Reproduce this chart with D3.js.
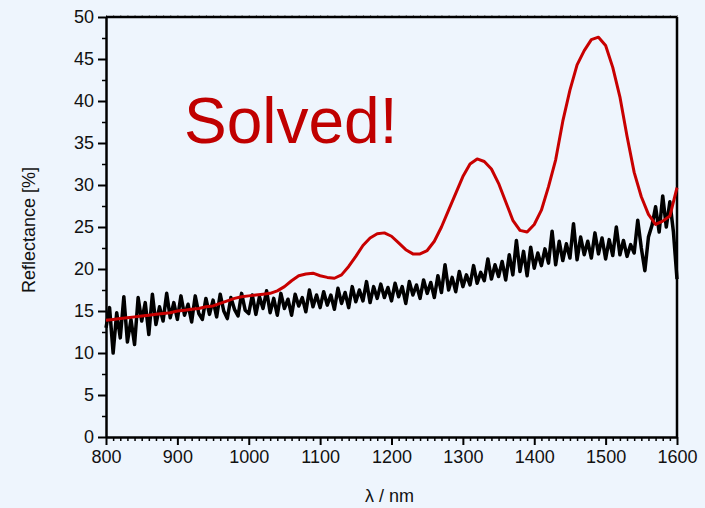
<!DOCTYPE html>
<html>
<head>
<meta charset="utf-8">
<script src="https://cdn.jsdelivr.net/npm/d3@7"></script>
<style>
  body { margin: 0; background: #eef5fd; overflow: hidden; }
  svg { display: block; }
  text { font-family: "Liberation Sans", Arial, sans-serif; }
</style>
</head>
<body>
<svg id="mainsvg" width="705" height="508"></svg>
<script>
// wavelength grid (nm)
const redStart = 800, redStep = 10;
const blackStart = 800, blackStep = 5;

// red: solved reflectance, every 10 nm from 800 to 1600
const redValues = [
  13.9, 14.0, 14.1, 14.2, 14.3, 14.4, 14.5, 14.6, 14.7, 14.8,
  15.0, 15.1, 15.2, 15.3, 15.5, 15.6, 15.9, 16.2, 16.5, 16.7,
  16.8, 16.9, 17.0, 17.1, 17.4, 17.9, 18.6, 19.2, 19.4, 19.5,
  19.2, 19.0, 18.9, 19.3, 20.3, 21.5, 22.8, 23.7, 24.2, 24.3,
  23.9, 23.1, 22.3, 21.8, 21.8, 22.2, 23.3, 25.0, 27.0, 29.0,
  31.0, 32.5, 33.1, 32.8, 31.9, 30.2, 28.0, 25.8, 24.6, 24.4,
  25.3, 27.0, 29.8, 33.0, 37.6, 41.3, 44.3, 46.0, 47.3, 47.6,
  46.6, 44.0, 40.5, 35.8, 31.5, 28.6, 26.5, 25.3, 25.7, 26.3,
  29.7
];

// black: measured reflectance, every 5 nm from 800 to 1600
const blackValues = [
  13.0, 15.4, 10.0, 14.8, 11.8, 16.7, 11.3, 14.0, 11.0, 16.6,
  13.8, 16.0, 12.2, 17.0, 13.4, 15.5, 13.8, 17.1, 14.2, 16.0,
  14.0, 16.8, 14.5, 15.8, 13.7, 16.8, 14.7, 14.0, 16.5, 14.6,
  16.3, 14.3, 17.0, 15.0, 14.1, 16.6, 15.2, 14.4, 17.1, 15.1,
  14.7, 16.9, 14.6, 16.7, 15.3, 17.4, 14.8, 16.5, 14.5, 17.1,
  15.3, 16.4, 14.5, 17.0, 15.6, 16.6, 14.9, 17.5, 15.5, 16.9,
  15.4, 17.3, 15.7, 16.9, 15.2, 17.7, 15.9, 17.2, 15.4, 17.9,
  16.1, 17.5, 16.2, 18.5, 16.0, 17.9, 16.5, 18.2, 16.6, 17.8,
  16.2, 18.3, 16.7, 17.9, 15.9, 18.5, 16.9, 18.1, 16.5, 18.7,
  17.1, 18.4, 16.6, 19.2, 17.2, 20.5, 17.5, 19.0, 17.3, 19.7,
  17.9, 19.3, 18.1, 20.4, 18.3, 19.6, 18.6, 21.2, 18.8, 20.5,
  19.1, 20.9, 18.7, 21.7, 19.3, 23.4, 19.7, 22.1, 19.2, 22.6,
  20.1, 21.9, 20.4, 22.4, 20.7, 24.5, 20.5, 23.3, 21.0, 23.0,
  21.3, 25.4, 21.1, 23.8, 21.7, 23.3, 21.3, 24.3, 21.8, 23.7,
  21.2, 23.5, 21.6, 25.0, 21.7, 23.4, 21.5, 22.9, 21.9, 25.8,
  22.5, 19.8, 23.8, 25.2, 27.4, 24.4, 28.7, 25.0, 28.0, 24.4,
  18.8
];

const xTicks = [800, 900, 1000, 1100, 1200, 1300, 1400, 1500, 1600];
const yTicks = [0, 5, 10, 15, 20, 25, 30, 35, 40, 45, 50];

const svg = d3.select('#mainsvg');
const margin = {top: 17, right: 28, bottom: 71, left: 106};
const width = +svg.attr('width');
const height = +svg.attr('height');
const innerWidth = width - margin.left - margin.right;
const innerHeight = height - margin.top - margin.bottom;

svg.append('rect').attr('width', width).attr('height', height).attr('fill', '#eef5fd');

const g = svg.append('g').attr('transform', `translate(${margin.left}, ${margin.top})`);

const xScale = d3.scaleLinear().domain([800, 1600]).range([0, innerWidth]);
const yScale = d3.scaleLinear().domain([0, 50]).range([innerHeight, 0]);

// minor ticks
const xMinor = d3.range(800, 1601, 10).filter(v => !xTicks.includes(v));
const yMinor = d3.range(2.5, 50, 5);

g.append('g')
  .attr('transform', `translate(0, ${innerHeight})`)
  .call(d3.axisBottom(xScale).tickValues(xMinor).tickSize(4).tickFormat(''))
  .call(a => a.select('.domain').remove())
  .selectAll('line').attr('stroke-width', 1.5);

g.append('g')
  .call(d3.axisLeft(yScale).tickValues(yMinor).tickSize(4).tickFormat(''))
  .call(a => a.select('.domain').remove())
  .selectAll('line').attr('stroke-width', 1.5);

// top minor ticks (tiny)
g.append('g')
  .call(d3.axisTop(xScale).tickValues(d3.range(800, 1601, 10)).tickSize(2).tickFormat(''))
  .call(a => a.select('.domain').remove())
  .selectAll('line').attr('stroke', '#888').attr('stroke-width', 1);

// major axes
const xAxis = g.append('g')
  .attr('transform', `translate(0, ${innerHeight})`)
  .call(d3.axisBottom(xScale).tickValues(xTicks).tickSize(8).tickSizeOuter(0).tickPadding(5).tickFormat(d3.format('d')));
xAxis.selectAll('text').style('font-size', '18px').attr('fill', '#111');

const yAxis = g.append('g')
  .call(d3.axisLeft(yScale).tickValues(yTicks).tickSize(8).tickSizeOuter(0).tickPadding(4).tickFormat(d3.format('d')));
yAxis.selectAll('text').style('font-size', '18px').attr('fill', '#111');

[xAxis, yAxis].forEach(a => {
  a.select('.domain').attr('stroke-width', 2.5);
  a.selectAll('.tick line').attr('stroke-width', 2);
});

// frame top / right
g.append('line').attr('x1', 0).attr('x2', innerWidth).attr('y1', 0).attr('y2', 0)
  .attr('stroke', '#000').attr('stroke-width', 2.5);
g.append('line').attr('x1', innerWidth).attr('x2', innerWidth).attr('y1', 0).attr('y2', innerHeight)
  .attr('stroke', '#000').attr('stroke-width', 2.5);

const line = d3.line()
  .x(d => xScale(d[0]))
  .y(d => yScale(d[1]));

const blackData = blackValues.map((v, i) => [blackStart + i * blackStep, v]);
const redData = redValues.map((v, i) => [redStart + i * redStep, v]);

g.append('path')
  .attr('d', line(blackData))
  .attr('fill', 'none')
  .attr('stroke', '#000')
  .attr('stroke-width', 3.5)
  .attr('stroke-linejoin', 'round');

g.append('path')
  .attr('d', line(redData))
  .attr('fill', 'none')
  .attr('stroke', '#c80000')
  .attr('stroke-width', 3)
  .attr('stroke-linejoin', 'round');

// labels
svg.append('text')
  .attr('x', margin.left + innerWidth / 2 - 2)
  .attr('y', 502)
  .attr('text-anchor', 'middle')
  .style('font-size', '18px')
  .attr('fill', '#111')
  .text('λ / nm');

svg.append('text')
  .attr('transform', 'rotate(-90)')
  .attr('x', -230)
  .attr('y', 35)
  .attr('text-anchor', 'middle')
  .style('font-size', '18px')
  .attr('fill', '#111')
  .text('Reflectance [%]');

svg.append('text')
  .attr('x', 184)
  .attr('y', 143)
  .style('font-size', '64px')
  .attr('fill', '#c00000')
  .text('Solved!');
</script>
</body>
</html>
